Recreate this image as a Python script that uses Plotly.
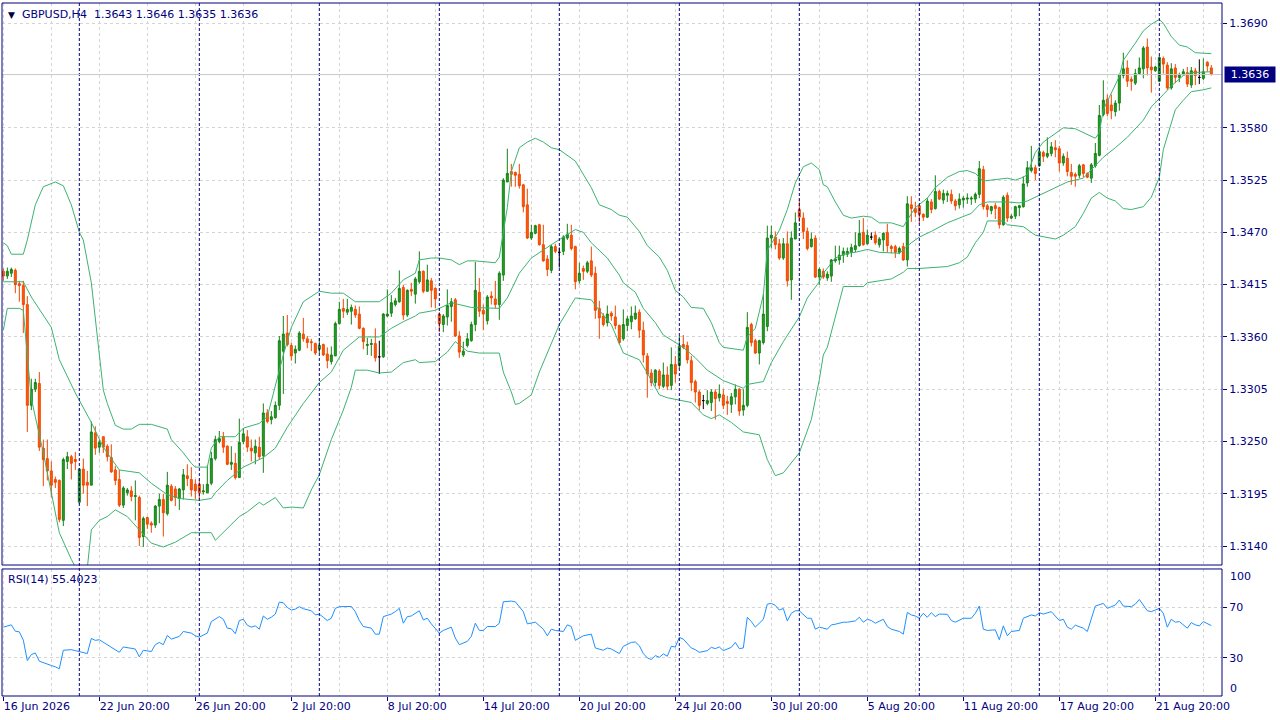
import numpy as np
import plotly.graph_objects as go

# GBPUSD H4 candles, one entry per bar (bar 0 = 16 Jun 2026 20:00)
opens = [
    1.3429, 1.3424, 1.3427, 1.3430, 1.3416, 1.3414, 1.3394, 1.3288, 1.3305, 1.3311,
    1.3243, 1.3232, 1.3219, 1.3210, 1.3209, 1.3167, 1.3229, 1.3234, 1.3231, 1.3186,
    1.3221, 1.3207, 1.3204, 1.3259, 1.3244, 1.3255, 1.3245, 1.3233, 1.3220, 1.3210,
    1.3183, 1.3196, 1.3198, 1.3192, 1.3191, 1.3150, 1.3170, 1.3164, 1.3162, 1.3182,
    1.3189, 1.3174, 1.3203, 1.3200, 1.3190, 1.3199, 1.3214, 1.3210, 1.3205, 1.3205,
    1.3197, 1.3196, 1.3206, 1.3232, 1.3250, 1.3255, 1.3245, 1.3226, 1.3227, 1.3212,
    1.3250, 1.3255, 1.3243, 1.3238, 1.3244, 1.3235, 1.3280, 1.3273, 1.3275, 1.3288,
    1.3345, 1.3364, 1.3351, 1.3343, 1.3346, 1.3363, 1.3358, 1.3355, 1.3353, 1.3347,
    1.3352, 1.3342, 1.3334, 1.3340, 1.3374, 1.3390, 1.3386, 1.3387, 1.3389, 1.3384,
    1.3369, 1.3351, 1.3352, 1.3353, 1.3339, 1.3339, 1.3382, 1.3385, 1.3394, 1.3397,
    1.3412, 1.3383, 1.3410, 1.3405, 1.3418, 1.3429, 1.3408, 1.3419, 1.3411, 1.3384,
    1.3373, 1.3381, 1.3392, 1.3399, 1.3361, 1.3341, 1.3351, 1.3356, 1.3373, 1.3407,
    1.3388, 1.3377, 1.3403, 1.3400, 1.3394, 1.3425, 1.3523, 1.3534, 1.3533, 1.3531,
    1.3520, 1.3499, 1.3464, 1.3469, 1.3478, 1.3457, 1.3442, 1.3430, 1.3455, 1.3449,
    1.3450, 1.3464, 1.3467, 1.3455, 1.3419, 1.3432, 1.3429, 1.3440, 1.3427, 1.3390,
    1.3382, 1.3375, 1.3385, 1.3381, 1.3372, 1.3358, 1.3372, 1.3376, 1.3379, 1.3386,
    1.3367, 1.3340, 1.3322, 1.3312, 1.3324, 1.3308, 1.3320, 1.3309, 1.3331, 1.3330,
    1.3352, 1.3351, 1.3335, 1.3313, 1.3302, 1.3293, 1.3290, 1.3291, 1.3302, 1.3296,
    1.3299, 1.3292, 1.3289, 1.3297, 1.3305, 1.3283, 1.3288, 1.3373, 1.3356, 1.3343,
    1.3354, 1.3371, 1.3464, 1.3465, 1.3458, 1.3443, 1.3458, 1.3420, 1.3463, 1.3494,
    1.3485, 1.3471, 1.3455, 1.3464, 1.3423, 1.3429, 1.3422, 1.3424, 1.3440, 1.3441,
    1.3446, 1.3447, 1.3449, 1.3452, 1.3456, 1.3470, 1.3458, 1.3465, 1.3467, 1.3457,
    1.3462, 1.3470, 1.3455, 1.3455, 1.3449, 1.3455, 1.3441, 1.3499, 1.3495, 1.3498,
    1.3489, 1.3486, 1.3502, 1.3495, 1.3513, 1.3504, 1.3509, 1.3510, 1.3503, 1.3499,
    1.3504, 1.3505, 1.3505, 1.3505, 1.3510, 1.3536, 1.3498, 1.3493, 1.3498, 1.3496,
    1.3478, 1.3509, 1.3485, 1.3487, 1.3496, 1.3497, 1.3522, 1.3535, 1.3538, 1.3540,
    1.3554, 1.3550, 1.3553, 1.3559, 1.3558, 1.3543, 1.3548, 1.3533, 1.3531, 1.3530,
    1.3541, 1.3532, 1.3527, 1.3540, 1.3551, 1.3594, 1.3610, 1.3604, 1.3597, 1.3606,
    1.3635, 1.3643, 1.3631, 1.3627, 1.3637, 1.3642, 1.3665, 1.3644, 1.3640, 1.3629,
    1.3653, 1.3646, 1.3622, 1.3643, 1.3633, 1.3636, 1.3638, 1.3625, 1.3640, 1.3633,
    1.3632, 1.3649, 1.3643,
]
highs = [
    1.3432, 1.3433, 1.3433, 1.3432, 1.3419, 1.3419, 1.3403, 1.3316, 1.3316, 1.3323,
    1.3252, 1.3252, 1.3229, 1.3213, 1.3210, 1.3233, 1.3239, 1.3236, 1.3239, 1.3222,
    1.3232, 1.3219, 1.3271, 1.3266, 1.3252, 1.3255, 1.3247, 1.3247, 1.3224, 1.3220,
    1.3203, 1.3201, 1.3203, 1.3209, 1.3193, 1.3171, 1.3171, 1.3166, 1.3183, 1.3195,
    1.3195, 1.3218, 1.3205, 1.3203, 1.3201, 1.3221, 1.3226, 1.3223, 1.3210, 1.3210,
    1.3205, 1.3225, 1.3239, 1.3256, 1.3261, 1.3260, 1.3246, 1.3245, 1.3238, 1.3274,
    1.3264, 1.3262, 1.3252, 1.3252, 1.3255, 1.3290, 1.3284, 1.3282, 1.3292, 1.3361,
    1.3382, 1.3383, 1.3354, 1.3351, 1.3366, 1.3380, 1.3361, 1.3358, 1.3354, 1.3359,
    1.3353, 1.3349, 1.3350, 1.3376, 1.3397, 1.3400, 1.3400, 1.3394, 1.3393, 1.3392,
    1.3370, 1.3359, 1.3358, 1.3369, 1.3356, 1.3385, 1.3410, 1.3404, 1.3401, 1.3430,
    1.3415, 1.3410, 1.3417, 1.3423, 1.3450, 1.3430, 1.3436, 1.3422, 1.3412, 1.3386,
    1.3384, 1.3410, 1.3401, 1.3401, 1.3366, 1.3355, 1.3364, 1.3376, 1.3439, 1.3422,
    1.3394, 1.3404, 1.3408, 1.3419, 1.3429, 1.3527, 1.3558, 1.3542, 1.3534, 1.3542,
    1.3521, 1.3516, 1.3478, 1.3478, 1.3479, 1.3478, 1.3446, 1.3457, 1.3458, 1.3454,
    1.3467, 1.3479, 1.3478, 1.3456, 1.3438, 1.3435, 1.3440, 1.3455, 1.3434, 1.3398,
    1.3385, 1.3393, 1.3387, 1.3393, 1.3373, 1.3389, 1.3382, 1.3392, 1.3393, 1.3389,
    1.3376, 1.3343, 1.3326, 1.3326, 1.3326, 1.3333, 1.3329, 1.3349, 1.3340, 1.3361,
    1.3362, 1.3355, 1.3340, 1.3315, 1.3304, 1.3299, 1.3304, 1.3305, 1.3305, 1.3310,
    1.3305, 1.3298, 1.3301, 1.3310, 1.3306, 1.3305, 1.3386, 1.3375, 1.3358, 1.3357,
    1.3405, 1.3477, 1.3477, 1.3471, 1.3463, 1.3464, 1.3471, 1.3471, 1.3491, 1.3505,
    1.3491, 1.3475, 1.3470, 1.3467, 1.3433, 1.3432, 1.3429, 1.3442, 1.3456, 1.3456,
    1.3454, 1.3454, 1.3458, 1.3470, 1.3483, 1.3485, 1.3473, 1.3470, 1.3471, 1.3465,
    1.3470, 1.3479, 1.3457, 1.3457, 1.3455, 1.3459, 1.3508, 1.3508, 1.3502, 1.3499,
    1.3490, 1.3506, 1.3505, 1.3530, 1.3515, 1.3515, 1.3514, 1.3515, 1.3505, 1.3511,
    1.3508, 1.3511, 1.3508, 1.3512, 1.3545, 1.3540, 1.3500, 1.3498, 1.3501, 1.3497,
    1.3509, 1.3512, 1.3489, 1.3498, 1.3499, 1.3529, 1.3545, 1.3561, 1.3541, 1.3560,
    1.3556, 1.3570, 1.3565, 1.3567, 1.3561, 1.3553, 1.3555, 1.3542, 1.3533, 1.3542,
    1.3542, 1.3533, 1.3543, 1.3564, 1.3604, 1.3630, 1.3615, 1.3615, 1.3609, 1.3637,
    1.3659, 1.3651, 1.3634, 1.3642, 1.3654, 1.3666, 1.3674, 1.3655, 1.3645, 1.3656,
    1.3655, 1.3649, 1.3648, 1.3647, 1.3638, 1.3642, 1.3644, 1.3644, 1.3643, 1.3652,
    1.3653, 1.3650, 1.3646,
]
lows = [
    1.3419, 1.3421, 1.3423, 1.3406, 1.3397, 1.3364, 1.3260, 1.3283, 1.3302, 1.3240,
    1.3203, 1.3209, 1.3191, 1.3201, 1.3165, 1.3161, 1.3221, 1.3210, 1.3220, 1.3184,
    1.3195, 1.3182, 1.3204, 1.3236, 1.3238, 1.3238, 1.3229, 1.3217, 1.3204, 1.3181,
    1.3180, 1.3193, 1.3187, 1.3167, 1.3140, 1.3139, 1.3158, 1.3154, 1.3159, 1.3164,
    1.3150, 1.3172, 1.3187, 1.3182, 1.3178, 1.3189, 1.3203, 1.3192, 1.3189, 1.3189,
    1.3194, 1.3196, 1.3204, 1.3230, 1.3248, 1.3238, 1.3225, 1.3220, 1.3210, 1.3212,
    1.3247, 1.3239, 1.3229, 1.3226, 1.3231, 1.3217, 1.3269, 1.3268, 1.3274, 1.3283,
    1.3300, 1.3350, 1.3335, 1.3332, 1.3345, 1.3355, 1.3348, 1.3345, 1.3341, 1.3343,
    1.3340, 1.3327, 1.3331, 1.3340, 1.3373, 1.3380, 1.3383, 1.3373, 1.3380, 1.3368,
    1.3347, 1.3341, 1.3340, 1.3334, 1.3321, 1.3338, 1.3381, 1.3381, 1.3392, 1.3396,
    1.3378, 1.3381, 1.3403, 1.3395, 1.3416, 1.3406, 1.3408, 1.3391, 1.3390, 1.3365,
    1.3365, 1.3372, 1.3376, 1.3360, 1.3338, 1.3339, 1.3349, 1.3355, 1.3366, 1.3381,
    1.3367, 1.3373, 1.3394, 1.3390, 1.3378, 1.3419, 1.3523, 1.3518, 1.3518, 1.3516,
    1.3491, 1.3463, 1.3462, 1.3468, 1.3456, 1.3439, 1.3424, 1.3427, 1.3448, 1.3433,
    1.3446, 1.3462, 1.3451, 1.3410, 1.3416, 1.3420, 1.3427, 1.3423, 1.3379, 1.3358,
    1.3371, 1.3371, 1.3377, 1.3368, 1.3352, 1.3356, 1.3366, 1.3368, 1.3378, 1.3359,
    1.3333, 1.3296, 1.3308, 1.3308, 1.3305, 1.3306, 1.3304, 1.3304, 1.3312, 1.3327,
    1.3347, 1.3332, 1.3303, 1.3291, 1.3283, 1.3284, 1.3288, 1.3282, 1.3273, 1.3292,
    1.3284, 1.3278, 1.3280, 1.3289, 1.3277, 1.3277, 1.3286, 1.3350, 1.3342, 1.3331,
    1.3352, 1.3366, 1.3453, 1.3452, 1.3441, 1.3441, 1.3413, 1.3399, 1.3463, 1.3481,
    1.3463, 1.3451, 1.3454, 1.3422, 1.3415, 1.3421, 1.3419, 1.3418, 1.3438, 1.3436,
    1.3438, 1.3444, 1.3444, 1.3449, 1.3455, 1.3456, 1.3457, 1.3462, 1.3457, 1.3454,
    1.3450, 1.3449, 1.3448, 1.3443, 1.3447, 1.3440, 1.3434, 1.3481, 1.3486, 1.3479,
    1.3482, 1.3485, 1.3490, 1.3494, 1.3504, 1.3500, 1.3502, 1.3500, 1.3493, 1.3495,
    1.3496, 1.3500, 1.3499, 1.3501, 1.3506, 1.3494, 1.3486, 1.3489, 1.3484, 1.3474,
    1.3477, 1.3481, 1.3484, 1.3484, 1.3487, 1.3496, 1.3518, 1.3533, 1.3525, 1.3539,
    1.3544, 1.3548, 1.3550, 1.3549, 1.3534, 1.3540, 1.3529, 1.3520, 1.3518, 1.3527,
    1.3528, 1.3527, 1.3522, 1.3538, 1.3550, 1.3592, 1.3592, 1.3589, 1.3592, 1.3598,
    1.3632, 1.3623, 1.3619, 1.3625, 1.3636, 1.3632, 1.3635, 1.3617, 1.3639, 1.3628,
    1.3637, 1.3620, 1.3620, 1.3627, 1.3628, 1.3635, 1.3623, 1.3622, 1.3625, 1.3626,
    1.3630, 1.3639, 1.3635,
]
closes = [
    1.3424, 1.3429, 1.3431, 1.3415, 1.3414, 1.3394, 1.3288, 1.3305, 1.3312, 1.3244,
    1.3231, 1.3219, 1.3204, 1.3207, 1.3168, 1.3231, 1.3234, 1.3227, 1.3229, 1.3221,
    1.3204, 1.3204, 1.3260, 1.3243, 1.3249, 1.3244, 1.3234, 1.3218, 1.3209, 1.3183,
    1.3201, 1.3199, 1.3192, 1.3193, 1.3149, 1.3169, 1.3163, 1.3162, 1.3182, 1.3189,
    1.3175, 1.3204, 1.3188, 1.3191, 1.3200, 1.3215, 1.3211, 1.3199, 1.3198, 1.3196,
    1.3198, 1.3205, 1.3232, 1.3252, 1.3253, 1.3244, 1.3226, 1.3228, 1.3212, 1.3249,
    1.3258, 1.3244, 1.3240, 1.3245, 1.3234, 1.3280, 1.3271, 1.3276, 1.3288, 1.3356,
    1.3363, 1.3352, 1.3340, 1.3347, 1.3364, 1.3358, 1.3354, 1.3354, 1.3343, 1.3351,
    1.3341, 1.3335, 1.3341, 1.3374, 1.3389, 1.3387, 1.3389, 1.3391, 1.3383, 1.3369,
    1.3355, 1.3352, 1.3353, 1.3338, 1.3339, 1.3384, 1.3384, 1.3396, 1.3398, 1.3411,
    1.3383, 1.3409, 1.3408, 1.3421, 1.3429, 1.3408, 1.3420, 1.3409, 1.3400, 1.3374,
    1.3382, 1.3393, 1.3397, 1.3361, 1.3344, 1.3345, 1.3358, 1.3373, 1.3409, 1.3387,
    1.3384, 1.3402, 1.3401, 1.3394, 1.3427, 1.3525, 1.3532, 1.3531, 1.3530, 1.3519,
    1.3497, 1.3464, 1.3470, 1.3477, 1.3457, 1.3440, 1.3431, 1.3455, 1.3450, 1.3449,
    1.3465, 1.3468, 1.3453, 1.3418, 1.3427, 1.3429, 1.3438, 1.3425, 1.3388, 1.3380,
    1.3373, 1.3384, 1.3382, 1.3372, 1.3354, 1.3373, 1.3379, 1.3382, 1.3385, 1.3367,
    1.3341, 1.3321, 1.3312, 1.3325, 1.3309, 1.3320, 1.3308, 1.3331, 1.3321, 1.3350,
    1.3349, 1.3336, 1.3312, 1.3302, 1.3288, 1.3293, 1.3293, 1.3302, 1.3295, 1.3300,
    1.3288, 1.3290, 1.3297, 1.3305, 1.3282, 1.3288, 1.3370, 1.3354, 1.3343, 1.3356,
    1.3384, 1.3464, 1.3467, 1.3457, 1.3443, 1.3458, 1.3419, 1.3464, 1.3480, 1.3486,
    1.3471, 1.3453, 1.3463, 1.3423, 1.3431, 1.3423, 1.3426, 1.3441, 1.3442, 1.3446,
    1.3450, 1.3450, 1.3454, 1.3456, 1.3469, 1.3457, 1.3467, 1.3465, 1.3459, 1.3463,
    1.3469, 1.3456, 1.3453, 1.3449, 1.3453, 1.3441, 1.3500, 1.3495, 1.3491, 1.3489,
    1.3486, 1.3503, 1.3494, 1.3513, 1.3505, 1.3511, 1.3511, 1.3503, 1.3498, 1.3505,
    1.3506, 1.3506, 1.3506, 1.3510, 1.3537, 1.3497, 1.3494, 1.3497, 1.3495, 1.3478,
    1.3507, 1.3485, 1.3487, 1.3497, 1.3498, 1.3521, 1.3538, 1.3538, 1.3532, 1.3555,
    1.3550, 1.3553, 1.3560, 1.3557, 1.3543, 1.3550, 1.3534, 1.3529, 1.3529, 1.3540,
    1.3532, 1.3528, 1.3541, 1.3553, 1.3593, 1.3609, 1.3595, 1.3598, 1.3606, 1.3636,
    1.3642, 1.3629, 1.3629, 1.3637, 1.3643, 1.3664, 1.3643, 1.3641, 1.3644, 1.3654,
    1.3647, 1.3622, 1.3642, 1.3633, 1.3636, 1.3639, 1.3626, 1.3640, 1.3635, 1.3633,
    1.3639, 1.3645, 1.3636,
]

# Bollinger bands at the bars listed
bb_upper_bar = [0, 1, 2, 5, 6, 8, 10, 13, 15, 17, 19, 20, 22, 23, 24, 25, 26, 28, 30, 32,
                34, 37, 41, 42, 45, 47, 48, 51, 52, 54, 58, 60, 64, 66, 70, 72, 75, 79, 82, 85,
                88, 94, 97, 100, 103, 104, 107, 109, 112, 114, 116, 118, 123, 124, 126, 127, 129, 131, 133, 135,
                137, 139, 143, 147, 149, 152, 154, 156, 159, 161, 164, 166, 168, 170, 172, 175, 177, 179, 180, 185,
                186, 188, 190, 191, 194, 196, 198, 200, 202, 204, 205, 206, 208, 210, 212, 215, 217, 219, 222, 225,
                226, 228, 231, 233, 236, 239, 241, 243, 245, 247, 251, 253, 255, 256, 258, 260, 263, 265, 268, 270,
                273, 274, 275, 279, 280, 283, 285, 287, 289, 290, 292, 294, 296, 298, 302]
bb_upper = [1.3459, 1.3456, 1.3447, 1.3447, 1.3462, 1.3499, 1.3518, 1.3523, 1.3519, 1.3499,
            1.3470, 1.3462, 1.3417, 1.3380, 1.3339, 1.3304, 1.3290, 1.3267, 1.3263, 1.3263,
            1.3268, 1.3268, 1.3263, 1.3252, 1.3238, 1.3227, 1.3223, 1.3223, 1.3243, 1.3255,
            1.3255, 1.3264, 1.3269, 1.3276, 1.3341, 1.3370, 1.3397, 1.3408, 1.3406, 1.3406,
            1.3397, 1.3397, 1.3406, 1.3420, 1.3427, 1.3441, 1.3443, 1.3443, 1.3441, 1.3436,
            1.3440, 1.3440, 1.3438, 1.3444, 1.3496, 1.3534, 1.3559, 1.3565, 1.3569, 1.3565,
            1.3559, 1.3557, 1.3545, 1.3517, 1.3499, 1.3494, 1.3488, 1.3486, 1.3471, 1.3456,
            1.3444, 1.3430, 1.3409, 1.3402, 1.3391, 1.3390, 1.3375, 1.3354, 1.3349, 1.3346,
            1.3360, 1.3369, 1.3404, 1.3451, 1.3472, 1.3494, 1.3522, 1.3539, 1.3543, 1.3536,
            1.3520, 1.3518, 1.3502, 1.3488, 1.3485, 1.3487, 1.3486, 1.3480, 1.3480, 1.3476,
            1.3483, 1.3496, 1.3506, 1.3517, 1.3528, 1.3534, 1.3535, 1.3532, 1.3524, 1.3525,
            1.3527, 1.3525, 1.3528, 1.3531, 1.3554, 1.3565, 1.3574, 1.3580, 1.3579, 1.3575,
            1.3569, 1.3575, 1.3599, 1.3634, 1.3651, 1.3669, 1.3682, 1.3689, 1.3694, 1.3690,
            1.3676, 1.3667, 1.3665, 1.3659, 1.3658]

bb_mid_bar = [0, 5, 7, 12, 14, 18, 22, 25, 29, 34, 37, 41, 44, 49, 52, 53, 56, 60, 65, 68,
              71, 75, 79, 82, 85, 89, 94, 97, 100, 103, 104, 108, 112, 117, 124, 126, 129, 132, 137, 140,
              143, 145, 147, 151, 154, 155, 158, 160, 163, 165, 170, 173, 176, 180, 183, 185, 186, 190, 192, 195,
              199, 201, 204, 205, 208, 211, 213, 216, 219, 224, 227, 229, 232, 236, 239, 242, 244, 246, 251, 254,
              256, 258, 262, 266, 270, 272, 275, 278, 281, 285, 287, 290, 292, 295, 297, 302]
bb_mid = [1.3418, 1.3418, 1.3402, 1.3370, 1.3336, 1.3301, 1.3270, 1.3244, 1.3220, 1.3217,
          1.3206, 1.3194, 1.3190, 1.3188, 1.3190, 1.3196, 1.3209, 1.3223, 1.3233, 1.3243,
          1.3265, 1.3290, 1.3312, 1.3323, 1.3346, 1.3360, 1.3360, 1.3369, 1.3376, 1.3382,
          1.3385, 1.3388, 1.3396, 1.3391, 1.3390, 1.3401, 1.3427, 1.3443, 1.3457, 1.3465,
          1.3473, 1.3470, 1.3459, 1.3443, 1.3425, 1.3417, 1.3407, 1.3390, 1.3375, 1.3362,
          1.3349, 1.3338, 1.3325, 1.3314, 1.3309, 1.3306, 1.3310, 1.3313, 1.3333, 1.3355,
          1.3381, 1.3401, 1.3418, 1.3427, 1.3443, 1.3448, 1.3449, 1.3452, 1.3449, 1.3448,
          1.3459, 1.3465, 1.3471, 1.3480, 1.3485, 1.3490, 1.3499, 1.3502, 1.3502, 1.3501,
          1.3503, 1.3507, 1.3515, 1.3523, 1.3527, 1.3536, 1.3549, 1.3559, 1.3570, 1.3588,
          1.3602, 1.3615, 1.3624, 1.3635, 1.3638, 1.3639]

bb_lower_bar = [0, 1, 4, 5, 6, 7, 10, 12, 14, 17, 19, 21, 22, 24, 26, 28, 31, 34, 37, 40,
                43, 47, 52, 53, 55, 59, 61, 64, 65, 68, 70, 72, 75, 77, 79, 82, 85, 87, 88, 91,
                94, 97, 100, 103, 104, 108, 111, 113, 116, 119, 124, 125, 127, 128, 129, 132, 134, 137, 139, 142,
                143, 147, 149, 152, 154, 155, 159, 161, 164, 166, 172, 175, 177, 179, 182, 185, 189, 191, 193, 195,
                199, 202, 204, 205, 206, 208, 210, 215, 216, 222, 225, 226, 229, 236, 239, 241, 243, 245, 246, 250,
                251, 255, 256, 258, 263, 265, 268, 270, 272, 274, 276, 278, 280, 282, 285, 287, 289, 290, 292, 293,
                295, 297, 300, 302]
bb_lower = [1.3367, 1.3390, 1.3390, 1.3388, 1.3340, 1.3295, 1.3238, 1.3196, 1.3154, 1.3126,
            1.3110, 1.3117, 1.3157, 1.3167, 1.3171, 1.3178, 1.3171, 1.3157, 1.3143, 1.3139,
            1.3144, 1.3154, 1.3154, 1.3146, 1.3154, 1.3171, 1.3176, 1.3186, 1.3183, 1.3191,
            1.3180, 1.3181, 1.3180, 1.3199, 1.3215, 1.3252, 1.3283, 1.3307, 1.3325, 1.3325,
            1.3322, 1.3323, 1.3333, 1.3336, 1.3333, 1.3334, 1.3344, 1.3355, 1.3345, 1.3343,
            1.3343, 1.3323, 1.3302, 1.3289, 1.3290, 1.3299, 1.3323, 1.3352, 1.3373, 1.3394,
            1.3401, 1.3399, 1.3388, 1.3373, 1.3352, 1.3343, 1.3336, 1.3322, 1.3299, 1.3296,
            1.3291, 1.3278, 1.3274, 1.3278, 1.3270, 1.3260, 1.3257, 1.3231, 1.3214, 1.3217,
            1.3238, 1.3273, 1.3315, 1.3341, 1.3349, 1.3381, 1.3413, 1.3413, 1.3417, 1.3421,
            1.3428, 1.3432, 1.3432, 1.3434, 1.3438, 1.3444, 1.3459, 1.3470, 1.3482, 1.3482,
            1.3478, 1.3476, 1.3473, 1.3467, 1.3463, 1.3467, 1.3476, 1.3490, 1.3506, 1.3512,
            1.3506, 1.3503, 1.3495, 1.3494, 1.3497, 1.3507, 1.3528, 1.3557, 1.3585, 1.3599,
            1.3609, 1.3618, 1.3620, 1.3622]

# RSI(14)
rsi_bar = [0, 2, 3, 4, 5, 6, 7, 8, 9, 11, 12, 13, 14, 15, 17, 18, 20, 21, 22, 23,
           24, 25, 27, 29, 30, 32, 33, 34, 35, 37, 38, 39, 40, 41, 42, 44, 45, 47, 48, 49,
           51, 52, 54, 55, 56, 57, 58, 59, 60, 61, 62, 63, 64, 65, 66, 67, 68, 69, 70, 71,
           72, 73, 74, 75, 77, 78, 79, 80, 81, 82, 83, 84, 87, 88, 89, 90, 92, 93, 94, 95,
           97, 98, 99, 100, 101, 102, 104, 105, 106, 107, 109, 110, 112, 113, 114, 116, 117, 118, 119, 120,
           121, 123, 124, 125, 127, 128, 130, 131, 132, 133, 135, 136, 137, 138, 140, 141, 142, 143, 144, 145,
           147, 148, 150, 151, 152, 154, 155, 157, 158, 159, 160, 161, 162, 163, 164, 165, 166, 167, 168, 169,
           170, 172, 173, 174, 176, 177, 178, 179, 180, 182, 183, 184, 185, 186, 187, 188, 190, 191, 192, 193,
           194, 195, 196, 197, 198, 199, 201, 202, 203, 204, 206, 207, 208, 210, 211, 213, 214, 215, 216, 217,
           218, 220, 221, 222, 224, 225, 226, 227, 228, 229, 230, 231, 232, 233, 234, 236, 237, 238, 240, 242,
           243, 244, 245, 246, 248, 249, 250, 251, 252, 254, 255, 256, 257, 258, 259, 260, 262, 264, 265, 266,
           267, 268, 270, 271, 272, 273, 275, 276, 278, 279, 280, 282, 283, 284, 286, 287, 289, 290, 291, 292,
           293, 294, 296, 297, 298, 299, 300, 301, 302]
rsi = [54.2, 56.0, 51.0, 50.5, 44.0, 27.9, 32.6, 33.9, 27.4, 24.8, 24.0, 23.0, 21.4, 36.0, 36.5, 35.7, 33.9, 33.4, 45.3, 43.8,
       44.3, 42.2, 38.6, 34.4, 38.6, 37.5, 37.0, 30.8, 36.0, 35.0, 40.4, 42.2, 40.4, 47.7, 44.8, 46.9, 50.8, 49.5, 47.4, 46.4,
       49.5, 58.6, 62.5, 60.4, 53.4, 52.9, 49.0, 59.4, 60.4, 55.7, 54.2, 55.2, 52.6, 63.0, 60.4, 62.0, 64.5, 73.9, 73.4, 69.7,
       67.7, 68.4, 70.3, 68.7, 67.1, 63.8, 64.5, 62.0, 59.4, 61.2, 69.0, 70.3, 70.5, 66.4, 59.4, 54.7, 53.4, 48.7, 48.7, 62.5,
       64.5, 66.4, 69.0, 57.3, 62.5, 63.0, 67.1, 59.9, 61.2, 56.8, 49.5, 51.6, 54.2, 45.6, 40.4, 43.0, 46.9, 57.3, 51.6, 51.6,
       54.7, 54.7, 57.3, 74.2, 74.7, 74.2, 66.4, 56.8, 57.3, 58.1, 52.6, 47.4, 52.6, 51.6, 50.8, 56.0, 54.7, 43.8, 45.6, 47.4,
       48.7, 37.8, 36.0, 37.8, 37.0, 33.4, 39.1, 42.2, 42.5, 39.6, 33.4, 30.0, 28.7, 31.8, 30.5, 33.1, 31.3, 39.1, 38.6, 46.1,
       44.8, 37.8, 36.5, 34.4, 35.7, 38.3, 37.3, 38.6, 35.7, 38.3, 42.2, 37.3, 37.8, 62.0, 58.6, 54.2, 60.4, 72.3, 72.9, 71.3,
       67.7, 68.9, 59.1, 65.1, 67.1, 67.1, 61.2, 61.2, 52.6, 54.2, 52.6, 56.0, 56.5, 58.1, 58.1, 59.1, 62.0, 58.1, 60.4, 59.4,
       57.3, 60.4, 54.7, 52.6, 50.8, 48.7, 65.8, 63.8, 63.0, 61.2, 65.1, 62.0, 65.6, 62.5, 64.5, 64.3, 59.4, 58.1, 61.2, 61.2,
       65.1, 70.8, 52.6, 51.6, 52.1, 44.3, 55.2, 47.4, 50.8, 51.6, 61.2, 62.5, 63.8, 63.0, 65.6, 64.5, 66.4, 59.4, 60.4, 54.2,
       52.6, 55.7, 53.4, 50.8, 60.4, 70.8, 72.9, 69.0, 71.6, 75.5, 70.8, 70.3, 72.3, 76.0, 67.1, 66.4, 69.0, 65.1, 54.2, 60.4,
       58.1, 58.6, 53.4, 57.8, 56.0, 55.2, 58.6, 57.0, 55.4]

price_ticks = [1.3140, 1.3195, 1.3250, 1.3305, 1.3360, 1.3415, 1.3470, 1.3525, 1.3580, 1.3690]
tick_bars = [0, 24, 48, 72, 96, 120, 144, 168, 192, 216, 240, 264, 288]
tick_labels = ["16 Jun 2026", "22 Jun 20:00", "26 Jun 20:00", "2 Jul 20:00", "8 Jul 20:00",
               "14 Jul 20:00", "20 Jul 20:00", "24 Jul 20:00", "30 Jul 20:00", "5 Aug 20:00",
               "11 Aug 20:00", "17 Aug 20:00", "21 Aug 20:00"]
week_start_bars = [19, 49, 79, 109, 139, 169, 199, 229, 259, 289]
last_price = 1.3636
rsi_last = "55.4023"
header = "GBPUSD,H4  1.3643 1.3646 1.3635 1.3636"

NAVY = "#000080"
GRID = "#d4d4d4"
FONT = "DejaVu Sans"

o = np.array(opens)
h = np.array(highs)
l = np.array(lows)
c = np.array(closes)
bars = np.arange(len(o))
doji = o == c

fig = go.Figure()

fig.add_trace(go.Candlestick(
    x=bars[~doji], open=o[~doji], high=h[~doji], low=l[~doji], close=c[~doji],
    increasing=dict(fillcolor="#22a322", line=dict(color="#178017", width=1)),
    decreasing=dict(fillcolor="#ff5a0a", line=dict(color="#f04800", width=1)),
    whiskerwidth=0, hoverinfo="skip", showlegend=False))
fig.add_trace(go.Candlestick(
    x=bars[doji], open=o[doji], high=h[doji], low=l[doji], close=c[doji],
    increasing=dict(fillcolor="#000000", line=dict(color="#000000", width=1)),
    decreasing=dict(fillcolor="#000000", line=dict(color="#000000", width=1)),
    whiskerwidth=0, hoverinfo="skip", showlegend=False))

for bx, by in [(bb_upper_bar, bb_upper), (bb_mid_bar, bb_mid), (bb_lower_bar, bb_lower)]:
    fig.add_trace(go.Scatter(x=bx, y=by, mode="lines", line=dict(color="#3cb371", width=1),
                             hoverinfo="skip", showlegend=False))

fig.add_trace(go.Scatter(x=rsi_bar, y=rsi, mode="lines", xaxis="x2", yaxis="y2",
                         line=dict(color="#1e90ff", width=1), hoverinfo="skip", showlegend=False))

x_range = [-0.33, 304.67]
main_dom = [0.189, 1.0]
rsi_dom = [0.0, 0.1833]

grid_x = dict(tickmode="array", tickvals=tick_bars, showgrid=True, gridcolor=GRID, griddash="3px,3px",
              gridwidth=1, zeroline=False, showline=False,
              minor=dict(tick0=0, dtick=12, showgrid=True, gridcolor=GRID, griddash="3px,3px", ticks=""))

fig.update_layout(
    width=1280, height=720,
    margin=dict(l=2, r=58, t=3, b=24, autoexpand=False),
    paper_bgcolor="white", plot_bgcolor="white",
    font=dict(family=FONT, size=11, color=NAVY),
    xaxis=dict(domain=[0, 1], range=x_range, anchor="y", matches="x2", showticklabels=False,
               ticks="", rangeslider=dict(visible=False), **grid_x),
    xaxis2=dict(domain=[0, 1], range=x_range, anchor="y2", ticktext=tick_labels, ticks="outside",
                ticklen=4, tickcolor=NAVY, ticklabelposition="outside right",
                tickfont=dict(family=FONT, size=11, color=NAVY), **grid_x),
    yaxis=dict(domain=main_dom, range=[1.3120, 1.37113], side="right", tickmode="array",
               tickvals=price_ticks, ticktext=[f"{v:.4f}" for v in price_ticks],
               ticks="outside", ticklen=4, tickcolor=NAVY, showgrid=True, gridcolor=GRID,
               griddash="3px,3px", zeroline=False, showline=False,
               tickfont=dict(family=FONT, size=11, color=NAVY)),
    yaxis2=dict(domain=rsi_dom, range=[0, 100], side="right", tickmode="array",
                tickvals=[30, 70], ticktext=["30", "70"], ticks="outside", ticklen=4,
                tickcolor=NAVY, showgrid=True, gridcolor=GRID, griddash="3px,3px",
                zeroline=False, showline=False, tickfont=dict(family=FONT, size=11, color=NAVY)),
    hovermode=False,
)

shapes = []
for wb in week_start_bars:
    shapes.append(dict(type="line", xref="x", yref="paper", x0=wb, x1=wb, y0=0, y1=1,
                       line=dict(color=NAVY, width=1, dash="3px,2px")))
shapes.append(dict(type="line", xref="paper", yref="y", x0=0, x1=1, y0=last_price, y1=last_price,
                   line=dict(color="#c8c8c8", width=1)))
shapes.append(dict(type="rect", xref="paper", yref="paper", x0=0, x1=1, y0=main_dom[0], y1=main_dom[1],
                   line=dict(color=NAVY, width=1)))
shapes.append(dict(type="rect", xref="paper", yref="paper", x0=0, x1=1, y0=rsi_dom[0], y1=rsi_dom[1],
                   line=dict(color=NAVY, width=1)))
fig.update_layout(shapes=shapes)

annotations = [
    dict(xref="paper", yref="paper", x=0, y=1, xanchor="left", yanchor="top", xshift=4, yshift=-3,
         text="<span style='font-size:9px;color:#000040'>▼</span>  " + header, showarrow=False,
         font=dict(family=FONT, size=11, color=NAVY)),
    dict(xref="paper", yref="y2 domain", x=0, y=1, xanchor="left", yanchor="top", xshift=4, yshift=-2,
         text="RSI(14) " + rsi_last, showarrow=False, font=dict(family=FONT, size=11, color=NAVY)),
    dict(xref="paper", yref="y", x=1, y=last_price, xanchor="left", yanchor="middle", xshift=2,
         text=f"{last_price:.4f}", showarrow=False, bgcolor=NAVY, width=48, borderpad=1,
         font=dict(family=FONT, size=11, color="white")),
    dict(xref="paper", yref="y2", x=1, y=100, xanchor="left", yanchor="middle", xshift=6, yshift=-8,
         text="100", showarrow=False, font=dict(family=FONT, size=11, color=NAVY)),
    dict(xref="paper", yref="y2", x=1, y=0, xanchor="left", yanchor="middle", xshift=6, yshift=8,
         text="0", showarrow=False, font=dict(family=FONT, size=11, color=NAVY)),
]
fig.update_layout(annotations=annotations)

# the page's default body margin would push the 1280x720 figure off the window
fig.write_html("out.html", config={"displayModeBar": False},
               post_script="document.body.style.margin='0';")
